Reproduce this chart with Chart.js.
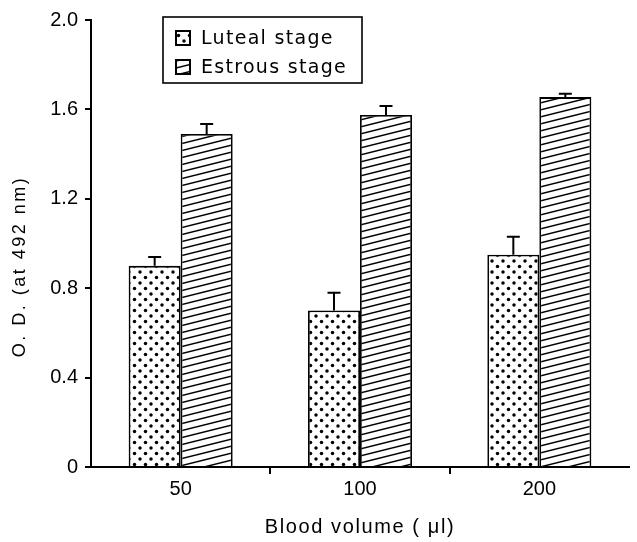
<!DOCTYPE html>
<html><head><meta charset="utf-8">
<script src="https://cdn.jsdelivr.net/npm/chart.js@4/dist/chart.umd.min.js"></script>
<style>html,body{margin:0;padding:0;background:#fff}#wrap{width:637px;height:542px;position:relative;background:#fff}</style>
</head><body><div id="wrap"><canvas id="c" width="637" height="542"></canvas></div>
<script>
const categories = ['50', '100', '200'];
const seriesNames = ['Luteal stage', 'Estrous stage'];
const lutealValues = [0.90, 0.70, 0.95];
const lutealErrors = [0.04, 0.08, 0.08];
const estrousValues = [1.49, 1.575, 1.655];
const estrousErrors = [0.045, 0.04, 0.015];
const yTickValues = [0, 0.4, 0.8, 1.2, 1.6, 2.0];
const yTickLabels = ['0', '0.4', '0.8', '1.2', '1.6', '2.0'];
const xTitle = 'Blood volume ( \u03bcl)';
const yTitle = 'O. D. (at 492 nm)';

function dotPattern() {
  const c = document.createElement('canvas'); c.width = 11; c.height = 11;
  const g = c.getContext('2d');
  g.fillStyle = '#fff'; g.fillRect(0, 0, 11, 11);
  g.fillStyle = '#000';
  [[2.5, 2.5], [8, 8]].forEach(([x, y]) => { g.beginPath(); g.arc(x, y, 1.75, 0, Math.PI * 2); g.fill(); });
  return g.createPattern(c, 'repeat');
}
function hatchPattern() {
  const W = 28, H = 7;
  const c = document.createElement('canvas'); c.width = W; c.height = H;
  const g = c.getContext('2d');
  g.fillStyle = '#fff'; g.fillRect(0, 0, W, H);
  g.strokeStyle = '#000'; g.lineWidth = 1.5;
  for (let k = -1; k <= 1; k++) { g.beginPath(); g.moveTo(0, H + H * k); g.lineTo(W, H * k); g.stroke(); }
  return g.createPattern(c, 'repeat');
}
const dots = dotPattern();
const hatch = hatchPattern();
const errorSets = [lutealErrors, estrousErrors];

const errorBars = {
  id: 'errorBars',
  afterDatasetsDraw(chart) {
    const ctx = chart.ctx, y = chart.scales.y;
    ctx.save(); ctx.strokeStyle = '#000'; ctx.lineWidth = 2;
    chart.data.datasets.forEach((ds, di) => {
      const meta = chart.getDatasetMeta(di);
      meta.data.forEach((el, i) => {
        const top = y.getPixelForValue(ds.data[i] + errorSets[di][i]);
        ctx.beginPath(); ctx.moveTo(el.x, el.y); ctx.lineTo(el.x, top);
        ctx.moveTo(el.x - 6.5, top); ctx.lineTo(el.x + 6.5, top); ctx.stroke();
      });
    });
    ctx.restore();
  }
};

const boxLegend = {
  id: 'boxLegend',
  afterDraw(chart) {
    const ctx = chart.ctx;
    ctx.save();
    ctx.strokeStyle = '#000'; ctx.lineWidth = 1.6;
    ctx.strokeRect(163, 17, 199, 66);
    const fills = [dots, hatch];
    const rows = [38, 67];
    ctx.font = '19px "DejaVu Sans"';
    ctx.letterSpacing = '1.3px';
    ctx.textBaseline = 'middle'; ctx.textAlign = 'left';
    seriesNames.forEach((name, i) => {
      const cy = rows[i];
      ctx.fillStyle = fills[i]; ctx.fillRect(176, cy - 7, 14, 14);
      ctx.lineWidth = 2; ctx.strokeRect(176, cy - 7, 14, 14);
      ctx.fillStyle = '#000';
      ctx.fillText(name, 201, cy + 1);
    });
    ctx.restore();
  }
};

const titleSpacing = {
  id: 'titleSpacing',
  afterUpdate(chart) {
    const cfg = { x: ['1.6px', 0], y: ['2.5px', 23] };
    Object.keys(cfg).forEach(k => {
      const s = chart.scales[k];
      if (!s || s._patched) return;
      const orig = s.drawTitle;
      s.drawTitle = function () {
        this.ctx.save();
        this.ctx.letterSpacing = cfg[k][0];
        this.ctx.translate(0, cfg[k][1]);
        orig.call(this);
        this.ctx.restore();
      };
      s._patched = true;
    });
  }
};

new Chart(document.getElementById('c'), {
  type: 'bar',
  data: {
    labels: categories,
    datasets: [
      { label: seriesNames[0], data: lutealValues, backgroundColor: dots, borderColor: '#000', borderWidth: 1.8, borderSkipped: 'bottom' },
      { label: seriesNames[1], data: estrousValues, backgroundColor: hatch, borderColor: '#000', borderWidth: 1.8, borderSkipped: 'bottom' }
    ]
  },
  options: {
    responsive: false, animation: false, devicePixelRatio: 1,
    layout: { padding: { left: 0, right: 8, top: 20, bottom: 0 } },
    datasets: { bar: { categoryPercentage: 0.58, barPercentage: 1.0 } },
    plugins: { legend: { display: false }, tooltip: { enabled: false } },
    scales: {
      x: {
        offset: true,
        grid: {
          display: true, drawOnChartArea: false, drawTicks: true, tickLength: 7, offset: true,
          color: c => (c.index === 1 || c.index === 2) ? '#000' : 'rgba(0,0,0,0)', lineWidth: 2
        },
        border: { display: true, color: '#000', width: 2 },
        ticks: { color: '#000', font: { family: 'Liberation Sans', size: 20 }, padding: 3 },
        title: { display: true, text: xTitle, color: '#000', font: { family: 'Liberation Sans', size: 20 }, padding: { top: 0, bottom: 3 } },
        afterFit: s => { s.height = 75; }
      },
      y: {
        min: 0, max: 2,
        afterBuildTicks: s => { s.ticks = yTickValues.map(v => ({ value: v })); },
        grid: { display: true, drawOnChartArea: false, drawTicks: true, tickLength: 6, color: '#000', lineWidth: 2 },
        border: { display: true, color: '#000', width: 2 },
        ticks: { color: '#000', font: { family: 'Liberation Sans', size: 20 }, padding: 7, callback: (v, i) => yTickLabels[i] },
        title: { display: true, text: yTitle, color: '#000', font: { family: 'Liberation Sans', size: 18 }, padding: { top: 9, bottom: 0 } },
        afterFit: s => { s.width = 91; }
      }
    }
  },
  plugins: [errorBars, boxLegend, titleSpacing]
});
</script>
</body></html>
